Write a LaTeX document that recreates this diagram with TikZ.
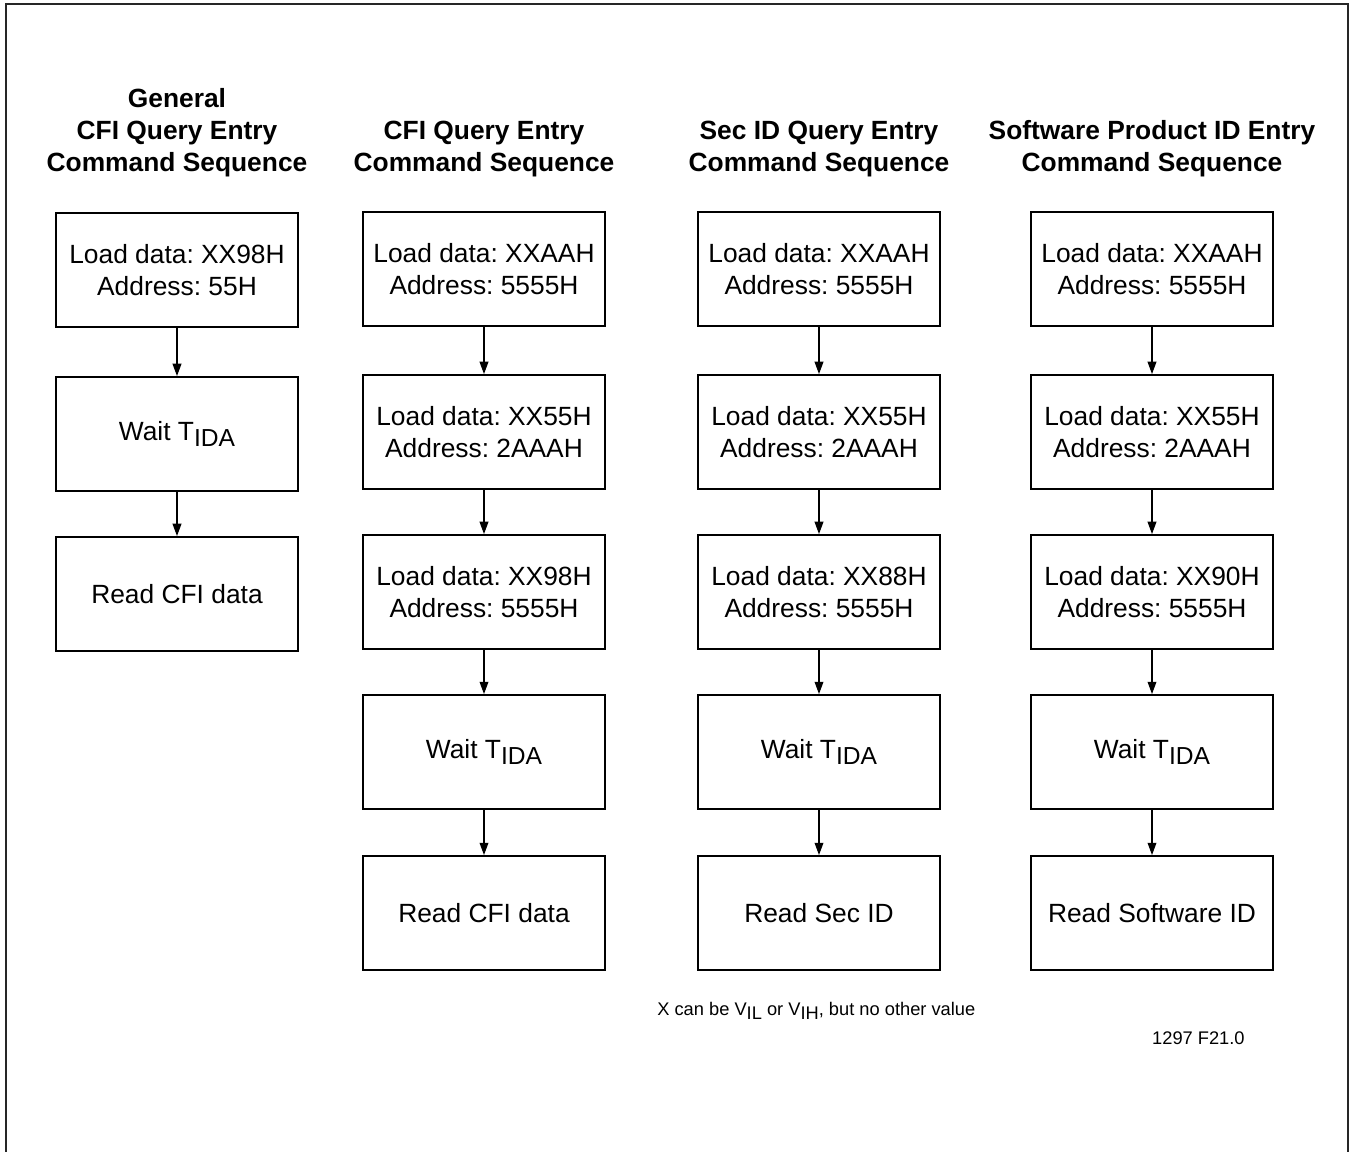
\documentclass[tikz,border=0pt]{standalone}
\usepackage{fontspec}
\setmainfont{Liberation Sans}
\usepackage{tikz}
\usetikzlibrary{arrows.meta}
\frenchspacing
\tikzset{
  box/.style={draw=black, line width=1.1pt, minimum width=4.84cm, minimum height=2.28cm,
    align=center, inner sep=0pt, font=\fontsize{15pt}{18.2pt}\selectfont},
  head/.style={align=center, inner sep=0pt, font=\fontsize{15pt}{18.2pt}\selectfont\bfseries},
  flow/.style={draw=black, line width=0.7pt, -{Triangle[length=7pt,width=5pt]}},
  frame/.style={draw=black!85, line width=1.1pt},
  note/.style={inner sep=0pt, font=\fontsize{10.4pt}{12.5pt}\selectfont},
}
\newcommand{\lowtxt}[2]{\raisebox{-0.4ex}{\fontsize{#1}{#1}\selectfont #2}}

\begin{document}
\begin{tikzpicture}[x=0.02cm, y=-0.02cm]
  \useasboundingbox (0,0) rectangle (1349,1152);
  \draw[frame] (6,1152) -- (6,4) -- (1348,4) -- (1348,1152);

  % headings
  \node[head] (hg) at (177,133) {General\\CFI Query Entry\\Command Sequence};
  \node[head] (hc) at (484,149) {CFI Query Entry\\Command Sequence};
  \node[head] (hs) at (819,149) {Sec ID Query Entry\\Command Sequence};
  \node[head] (hp) at (1152,149) {Software Product ID Entry\\Command Sequence};

  % general CFI query
  \node[box] (g1) at (177,270) {Load data: XX98H\\Address: 55H};
  \node[box] (g2) at (177,434) {Wait T\lowtxt{14pt}{IDA}};
  \node[box] (g3) at (177,594) {Read CFI data};

  % CFI query
  \node[box] (c1) at (484,269) {Load data: XXAAH\\Address: 5555H};
  \node[box] (c2) at (484,432) {Load data: XX55H\\Address: 2AAAH};
  \node[box] (c3) at (484,592) {Load data: XX98H\\Address: 5555H};
  \node[box] (c4) at (484,752) {Wait T\lowtxt{14pt}{IDA}};
  \node[box] (c5) at (484,913) {Read CFI data};

  % Sec ID query
  \node[box] (s1) at (819,269) {Load data: XXAAH\\Address: 5555H};
  \node[box] (s2) at (819,432) {Load data: XX55H\\Address: 2AAAH};
  \node[box] (s3) at (819,592) {Load data: XX88H\\Address: 5555H};
  \node[box] (s4) at (819,752) {Wait T\lowtxt{14pt}{IDA}};
  \node[box] (s5) at (819,913) {Read Sec ID};

  % software product ID
  \node[box] (p1) at (1152,269) {Load data: XXAAH\\Address: 5555H};
  \node[box] (p2) at (1152,432) {Load data: XX55H\\Address: 2AAAH};
  \node[box] (p3) at (1152,592) {Load data: XX90H\\Address: 5555H};
  \node[box] (p4) at (1152,752) {Wait T\lowtxt{14pt}{IDA}};
  \node[box] (p5) at (1152,913) {Read Software ID};

  \draw[flow] (g1) -- (g2);
  \draw[flow] (g2) -- (g3);
  \draw[flow] (c1) -- (c2);
  \draw[flow] (c2) -- (c3);
  \draw[flow] (c3) -- (c4);
  \draw[flow] (c4) -- (c5);
  \draw[flow] (s1) -- (s2);
  \draw[flow] (s2) -- (s3);
  \draw[flow] (s3) -- (s4);
  \draw[flow] (s4) -- (s5);
  \draw[flow] (p1) -- (p2);
  \draw[flow] (p2) -- (p3);
  \draw[flow] (p3) -- (p4);
  \draw[flow] (p4) -- (p5);

  \node[note, anchor=west] (xnote) at (657,1011)
    {X can be V\lowtxt{10.4pt}{IL} or V\lowtxt{10.4pt}{IH}, but no other value};
  \node[note, anchor=east] (fig) at (1245,1038) {1297 F21.0};
\end{tikzpicture}
\end{document}
